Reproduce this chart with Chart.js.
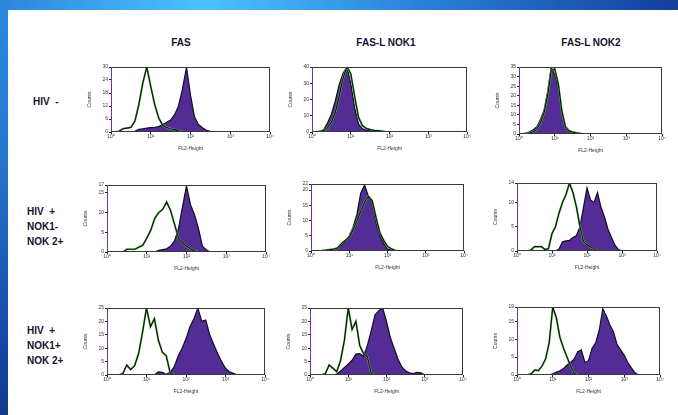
<!DOCTYPE html>
<html>
<head>
<meta charset="utf-8">
<script src="https://cdn.jsdelivr.net/npm/chart.js@4.4.1/dist/chart.umd.min.js"></script>
<style>
  html, body { margin: 0; padding: 0; }
  body {
    width: 678px; height: 415px; overflow: hidden; position: relative;
    background: radial-gradient(ellipse at 30% 0%, #4cc3ff 0%, #2b86dd 30%, #1648a8 65%, #0b1f5a 100%);
    font-family: "Liberation Sans", Arial, sans-serif;
  }
  #sheet { position: absolute; left: 8px; top: 10px; right: 0; bottom: 0; background: #fff; }
  .col, .row { position: absolute; font-weight: bold; color: #14142e; font-size: 10px; }
  .col { transform: translateX(-50%); white-space: nowrap; }
  .row { line-height: 15px; white-space: pre; }
  canvas { position: absolute; }
</style>
</head>
<body>
<div id="sheet"></div>

<div class="col" style="left:181px; top:37px;">FAS</div>
<div class="col" style="left:386px; top:37px;">FAS-L NOK1</div>
<div class="col" style="left:591px; top:37px;">FAS-L NOK2</div>

<div class="row" style="left:33px; top:94px;">HIV  -</div>
<div class="row" style="left:27px; top:204px;">HIV  +
NOK1-
NOK 2+</div>
<div class="row" style="left:27px; top:323px;">HIV  +
NOK1+
NOK 2+</div>

<script>
// bin centres, log10 of FL2-Height (10^0 .. 10^4)
const logBins = [0.0, 0.1, 0.2, 0.3, 0.4, 0.5, 0.6, 0.7, 0.8, 0.9,
                 1.0, 1.1, 1.2, 1.3, 1.4, 1.5, 1.6, 1.7, 1.8, 1.9,
                 2.0, 2.1, 2.2, 2.3, 2.4, 2.5, 2.6, 2.7, 2.8, 2.9,
                 3.0, 3.1, 3.2, 3.3, 3.4, 3.5, 3.6, 3.7, 3.8, 3.9,
                 4.0];

const xTickLabels = ['10\u2070', '10\u00b9', '10\u00b2', '10\u00b3', '10\u2074'];

// HIV-  (control = open curve, stained = filled)
const hivNegFasCtrl = [0, 0, 0.3, 1.5, 1.8, 2.1, 4.9, 12.6, 22.6, 30,
                       21, 12.6, 6.5, 3.1, 2.1, 1.5, 1.1, 0.5, 0, 0,
                       0, 0, 0, 0, 0, 0, 0, 0, 0, 0,
                       0, 0, 0, 0, 0, 0, 0, 0, 0, 0, 0];
const hivNegFas = [0, 0, 0, 0, 0, 0, 0.3, 1.2, 1.5, 1.8,
                   2.0, 2.2, 2.5, 3.5, 4.5, 5.5, 8, 12, 20, 30,
                   17, 7, 3.5, 2, 0.8, 0.3, 0, 0, 0, 0,
                   0, 0, 0, 0, 0, 0, 0, 0, 0, 0, 0];
const hivNegNok1Ctrl = [0, 0, 0.3, 0.8, 2.5, 6, 12, 22, 33, 40,
                        36, 22, 9, 4, 2.2, 1.5, 1, 0.8, 0.5, 0.2,
                        0, 0, 0, 0, 0, 0, 0, 0, 0, 0,
                        0, 0, 0, 0, 0, 0, 0, 0, 0, 0, 0];
const hivNegNok1 = [0, 0.3, 0.6, 1.4, 5.5, 11, 19, 29, 36, 40,
                    30, 15, 5, 2, 1.2, 0.8, 0.6, 0.4, 0.2, 0,
                    0, 0, 0, 0, 0, 0, 0, 0, 0, 0,
                    0, 0, 0, 0, 0, 0, 0, 0, 0, 0, 0];
const hivNegNok2Ctrl = [0, 0, 0.2, 0.6, 1.2, 2.5, 6, 11, 20, 33,
                        34, 26, 12, 3.5, 1.5, 1, 0.6, 0.3, 0, 0,
                        0, 0, 0, 0, 0, 0, 0, 0, 0, 0,
                        0, 0, 0, 0, 0, 0, 0, 0, 0, 0, 0];
const hivNegNok2 = [0, 0.2, 0.5, 1.2, 2.2, 3.8, 7.5, 12.5, 22, 35,
                    31, 24, 11, 4, 2, 1, 0.6, 0.4, 0, 0,
                    0, 0, 0, 0, 0, 0, 0, 0, 0, 0,
                    0, 0, 0, 0, 0, 0, 0, 0, 0, 0, 0];

// HIV+ NOK1- NOK2+
const nok1NegFasCtrl = [0, 0, 0, 0, 0, 0.7, 0.7, 0.7, 1.2, 1.7,
                        3.5, 5.5, 8.5, 10, 10.8, 12.7, 10.5, 7, 3.5, 2.2,
                        1.5, 0.8, 0.3, 0, 0, 0, 0, 0, 0, 0,
                        0, 0, 0, 0, 0, 0, 0, 0, 0, 0, 0];
const nok1NegFas = [0, 0, 0, 0, 0, 0, 0, 0, 0, 0,
                    0, 0, 0, 0.4, 0.6, 0.8, 1.5, 2.8, 6, 11.5,
                    16.8, 12, 9.5, 6, 1.5, 0.5, 0, 0, 0, 0,
                    0, 0, 0, 0, 0, 0, 0, 0, 0, 0, 0];
const nok1NegNok1Ctrl = [0, 0, 0, 0, 0.3, 0.5, 0.6, 1, 2.5, 3.5,
                         4.5, 7, 10, 13, 16, 18, 16.5, 11, 6, 3.5,
                         1.5, 0.7, 0.2, 0, 0, 0, 0, 0, 0, 0,
                         0, 0, 0, 0, 0, 0, 0, 0, 0, 0, 0];
const nok1NegNok1 = [0, 0, 0, 0.2, 0.4, 0.5, 0.6, 1.2, 2, 3.2,
                     5, 7.8, 12, 19, 21.7, 18, 15.5, 9.5, 5, 2.5,
                     0.6, 0.3, 0, 0, 0, 0, 0, 0, 0, 0,
                     0, 0, 0, 0, 0, 0, 0, 0, 0, 0, 0];
const nok1NegNok2Ctrl = [0, 0, 0, 0, 0.2, 0.9, 0.9, 0.9, 0.3, 0.5,
                         3.6, 5, 7.8, 10, 11.6, 14, 12, 9, 5, 2,
                         1.2, 0.9, 0.4, 0, 0, 0, 0, 0, 0, 0,
                         0, 0, 0, 0, 0, 0, 0, 0, 0, 0, 0];
const nok1NegNok2 = [0, 0, 0, 0, 0, 0, 0, 0, 0, 0,
                     0, 0, 0.4, 1.9, 2.1, 2.2, 2.8, 3.2, 5, 9,
                     13, 10.5, 10, 12, 9, 7, 4.5, 2.8, 1.2, 0.3,
                     0, 0, 0, 0, 0, 0, 0, 0, 0, 0, 0];

// HIV+ NOK1+ NOK2+
const nok1PosFasCtrl = [0, 0, 0, 0, 0.5, 3.7, 2, 3.5, 8, 16,
                        25, 18, 21, 13, 8.5, 7.2, 0.8, 0, 0, 0,
                        0, 0, 0, 0, 0, 0, 0, 0, 0, 0,
                        0, 0, 0, 0, 0, 0, 0, 0, 0, 0, 0];
const nok1PosFas = [0, 0, 0, 0, 0, 0, 0, 0, 0, 0,
                    0, 0, 0, 1.2, 1, 0.3, 1, 3, 7, 10,
                    13.5, 18, 21, 25, 20, 20.5, 15, 11.5, 8, 5,
                    2.5, 1.2, 0.6, 0, 0, 0, 0, 0, 0, 0, 0];
const nok1PosNok1Ctrl = [0, 0, 0, 0, 0.5, 3.7, 2.5, 1.2, 5.5, 13,
                         25, 17, 20, 11, 8, 6.8, 0.5, 0, 0, 0,
                         0, 0, 0, 0, 0, 0, 0, 0, 0, 0,
                         0, 0, 0, 0, 0, 0, 0, 0, 0, 0, 0];
const nok1PosNok1 = [0, 0, 0, 0, 0, 0, 0, 0.3, 1.5, 2.8,
                     4, 5.5, 7.8, 8, 7, 11, 16.5, 22.5, 24, 25,
                     20, 14, 10, 6, 3, 1.5, 0.8, 0.5, 1, 0.8,
                     0, 0, 0, 0, 0, 0, 0, 0, 0, 0, 0];
const nok1PosNok2Ctrl = [0, 0, 0, 0, 0.4, 1.4, 1.2, 2.5, 4.5, 9,
                         19, 16, 10.5, 7.5, 5, 2.5, 0.5, 0, 0, 0,
                         0, 0, 0, 0, 0, 0, 0, 0, 0, 0,
                         0, 0, 0, 0, 0, 0, 0, 0, 0, 0, 0];
const nok1PosNok2 = [0, 0, 0, 0, 0, 0, 0, 0, 0, 0,
                     0.3, 0.8, 1.2, 1.8, 2.8, 3.5, 4.5, 6.5, 7, 3.5,
                     4, 7.5, 9, 12.5, 18.5, 16.5, 14, 12, 8.5, 7,
                     5.5, 3.5, 2, 0.6, 0, 0, 0, 0, 0, 0, 0];

// y-axis range per panel (Counts)
const yMax  = [30, 40, 35, 17, 22, 14, 25, 25, 19];
const yStep = [6, 5, 5, 5, 5, 5, 5, 5, 5];

// plot boxes on the page: [left, top, right, bottom]
const boxes = [
  [111, 67, 270, 132], [312, 67, 467, 132], [519, 67, 662, 134],
  [107, 185, 266, 252], [311, 184, 464, 251], [517, 183, 657, 251],
  [107, 308, 265, 375], [310, 308, 463, 375], [517, 307, 660, 375]
];

const panels = [
  [hivNegFasCtrl, hivNegFas], [hivNegNok1Ctrl, hivNegNok1], [hivNegNok2Ctrl, hivNegNok2],
  [nok1NegFasCtrl, nok1NegFas], [nok1NegNok1Ctrl, nok1NegNok1], [nok1NegNok2Ctrl, nok1NegNok2],
  [nok1PosFasCtrl, nok1PosFas], [nok1PosNok1Ctrl, nok1PosNok1], [nok1PosNok2Ctrl, nok1PosNok2]
];

const PAD_L = 24, PAD_T = 4, PAD_R = 6, PAD_B = 20;
const tinyFont = { family: 'Liberation Sans, Arial, sans-serif', size: 5 };

// frame around the plot area, left edge tinted like the scan
const boxPlugin = {
  id: 'box',
  afterDatasetsDraw(chart) {
    const { ctx, chartArea: a } = chart;
    ctx.save();
    ctx.strokeStyle = '#3a3a3a';
    ctx.lineWidth = 1;
    ctx.strokeRect(a.left + 0.5, a.top + 0.5, a.width - 1, a.height - 1);
    ctx.strokeStyle = '#6a34b0';
    ctx.beginPath();
    ctx.moveTo(a.left + 0.5, a.top);
    ctx.lineTo(a.left + 0.5, a.bottom);
    ctx.stroke();
    ctx.restore();
  }
};

function toPoints(counts) {
  return logBins.map((x, i) => ({ x: x, y: counts[i] }));
}

function makePanel(i) {
  const [l, t, r, b] = boxes[i];
  const canvas = document.createElement('canvas');
  canvas.width = (r - l) + PAD_L + PAD_R;
  canvas.height = (b - t) + PAD_T + PAD_B;
  canvas.style.left = (l - PAD_L) + 'px';
  canvas.style.top = (t - PAD_T) + 'px';
  document.body.appendChild(canvas);

  const [ctrl, stained] = panels[i];
  new Chart(canvas.getContext('2d'), {
    type: 'line',
    data: {
      datasets: [
        { data: toPoints(ctrl), borderColor: '#101410', borderWidth: 1.2, fill: false },
        { data: toPoints(ctrl), borderColor: '#5fcf4f', borderWidth: 2, fill: false },
        { data: toPoints(stained), borderColor: '#140c28', borderWidth: 1.2,
          backgroundColor: '#532c96', fill: 'origin' }
      ]
    },
    options: {
      responsive: false,
      animation: false,
      events: [],
      layout: { padding: { left: 0, top: PAD_T, right: PAD_R, bottom: 0 } },
      elements: { point: { radius: 0 }, line: { tension: 0 } },
      plugins: { legend: { display: false }, tooltip: { enabled: false } },
      scales: {
        x: {
          type: 'linear', min: 0, max: 4,
          afterFit: s => { s.height = PAD_B; },
          grid: { display: true, drawOnChartArea: false, tickLength: 2, color: '#222' },
          border: { display: false },
          ticks: { stepSize: 1, font: tinyFont, color: '#333', padding: 0, maxRotation: 0,
                   callback: v => xTickLabels[v] },
          title: { display: true, text: 'FL2-Height', font: tinyFont, color: '#333', padding: 0 }
        },
        y: {
          min: 0, max: yMax[i],
          afterFit: s => { s.width = PAD_L; },
          grid: { display: true, drawOnChartArea: false, tickLength: 2, color: '#222' },
          border: { display: false },
          ticks: { stepSize: yStep[i], font: tinyFont, color: '#333', padding: 1 },
          title: { display: true, text: 'Counts', font: tinyFont, color: '#333', padding: 0 }
        }
      }
    },
    plugins: [boxPlugin]
  });
}

for (let i = 0; i < panels.length; i++) makePanel(i);
</script>
</body>
</html>
